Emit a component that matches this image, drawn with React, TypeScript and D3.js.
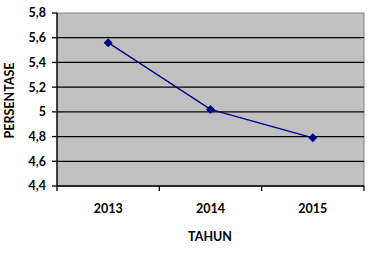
import React from "react";
import * as d3 from "d3";

const categories = ["2013", "2014", "2015"];
const values = [5.56, 5.02, 4.79];
const yTicks = [4.4, 4.6, 4.8, 5.0, 5.2, 5.4, 5.6, 5.8];
const yTickLabels = ["4,4", "4,6", "4,8", "5", "5,2", "5,4", "5,6", "5,8"];

export default function App() {
  const W = 370, H = 260;
  const left = 57, right = 364, top = 13, bottom = 186;
  const x = d3.scaleBand<string>().domain(categories).range([left, right]);
  const y = d3.scaleLinear().domain([4.4, 5.8]).range([bottom, top]);
  const font = "Lato, 'Open Sans', sans-serif";
  const fs = 12.5;
  const line = d3
    .line<number>()
    .x((_, i) => (x(categories[i]) as number) + x.bandwidth() / 2)
    .y((d) => y(d));
  const diamond = "M0,-4.5L4.5,0L0,4.5L-4.5,0Z";
  return (
    <svg
      width={W}
      height={H}
      style={{ position: "absolute", left: 0, top: 0, background: "#fff" }}
    >
      <rect x={left} y={top} width={right - left} height={bottom - top} fill="#C0C0C0" stroke="#808080" strokeWidth={1} />
      {yTicks.map((t, i) => (
        <g key={i}>
          {i > 0 && i < yTicks.length - 1 && (
            <line x1={left} x2={right} y1={y(t)} y2={y(t)} stroke="#000" strokeWidth={1.3} />
          )}
          <line x1={left - 5} x2={left} y1={y(t)} y2={y(t)} stroke="#000" strokeWidth={1.3} />
          <text
            x={left - 11}
            y={y(t)}
            dy="0.35em"
            textAnchor="end"
            fontFamily={font}
            fontWeight="bold"
            fontSize={fs}
            fill="#000"
          >
            {yTickLabels[i]}
          </text>
        </g>
      ))}
      <line x1={left} x2={left} y1={top} y2={bottom} stroke="#000" strokeWidth={1.3} />
      <line x1={left} x2={right} y1={bottom} y2={bottom} stroke="#000" strokeWidth={1.3} />
      {[...categories.map((c) => x(c) as number), right].map((px, i) => (
        <line key={i} x1={px} x2={px} y1={bottom} y2={bottom + 5} stroke="#000" strokeWidth={1.3} />
      ))}
      {categories.map((c) => (
        <text
          key={c}
          x={(x(c) as number) + x.bandwidth() / 2}
          y={209}
          dy="0.35em"
          textAnchor="middle"
          fontFamily={font}
          fontWeight="bold"
          fontSize={fs}
          fill="#000"
        >
          {c}
        </text>
      ))}
      <path d={line(values) || ""} fill="none" stroke="#000080" strokeWidth={1.3} />
      {values.map((v, i) => (
        <path
          key={i}
          d={diamond}
          transform={`translate(${(x(categories[i]) as number) + x.bandwidth() / 2},${y(v)})`}
          fill="#000080"
        />
      ))}
      <text
        x={210}
        y={237}
        dy="0.35em"
        textAnchor="middle"
        fontFamily={font}
        fontWeight="bold"
        fontSize={fs}
        fill="#000"
      >
        TAHUN
      </text>
      <text
        transform={`translate(10,${(top + bottom) / 2 + 1}) rotate(-90)`}
        dy="0.35em"
        textAnchor="middle"
        fontFamily={font}
        fontWeight="bold"
        fontSize={fs}
        fill="#000"
      >
        PERSENTASE
      </text>
    </svg>
  );
}
